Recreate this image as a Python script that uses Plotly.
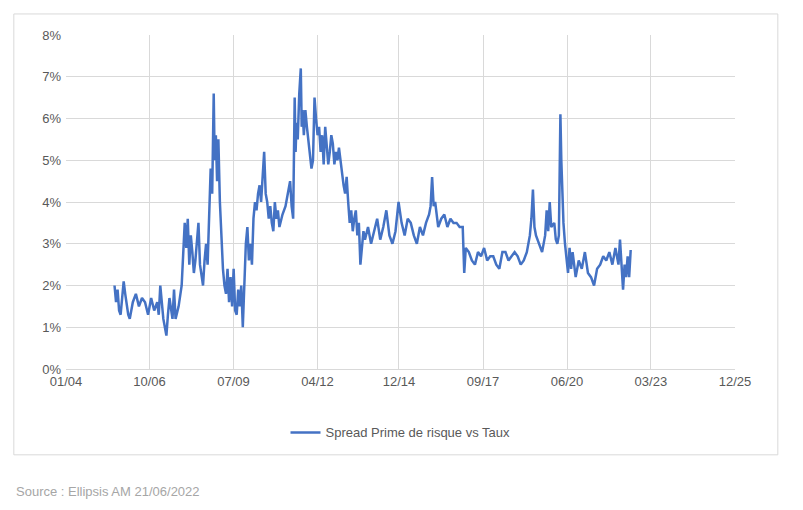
import pandas as pd
import plotly.graph_objects as go

# decimal year -> spread value (%)
years = [2005.60, 2005.65, 2005.70, 2005.75, 2005.80, 2005.85, 2005.90, 2005.95, 2006.00, 2006.05,
         2006.10, 2006.20, 2006.30, 2006.40, 2006.50, 2006.60, 2006.70, 2006.80, 2006.90, 2007.00,
         2007.05, 2007.10, 2007.20, 2007.25, 2007.30, 2007.35, 2007.40, 2007.50, 2007.55, 2007.60,
         2007.70, 2007.80, 2007.85, 2007.90, 2007.95, 2008.00, 2008.05, 2008.10, 2008.15, 2008.20,
         2008.25, 2008.30, 2008.35, 2008.40, 2008.45, 2008.50, 2008.55, 2008.60, 2008.65, 2008.70,
         2008.75, 2008.80, 2008.85, 2008.88, 2008.92, 2008.96, 2009.00, 2009.05, 2009.10, 2009.15,
         2009.20, 2009.25, 2009.30, 2009.35, 2009.40, 2009.45, 2009.50, 2009.55, 2009.60, 2009.65,
         2009.70, 2009.75, 2009.80, 2009.85, 2009.90, 2009.95, 2010.00, 2010.05, 2010.10, 2010.15,
         2010.20, 2010.25, 2010.30, 2010.35, 2010.40, 2010.45, 2010.50, 2010.55, 2010.60, 2010.65,
         2010.70, 2010.75, 2010.80, 2010.85, 2010.90, 2010.95, 2011.00, 2011.10, 2011.20, 2011.30,
         2011.35, 2011.40, 2011.45, 2011.50, 2011.53, 2011.56, 2011.60, 2011.65, 2011.70, 2011.73,
         2011.76, 2011.80, 2011.85, 2011.90, 2011.95, 2012.00, 2012.05, 2012.10, 2012.15, 2012.20,
         2012.25, 2012.30, 2012.35, 2012.40, 2012.45, 2012.50, 2012.55, 2012.60, 2012.65, 2012.70,
         2012.75, 2012.80, 2012.85, 2012.90, 2012.95, 2013.00, 2013.05, 2013.10, 2013.15, 2013.20,
         2013.25, 2013.30, 2013.35, 2013.40, 2013.45, 2013.50, 2013.55, 2013.60, 2013.65, 2013.70,
         2013.75, 2013.80, 2013.90, 2014.00, 2014.10, 2014.20, 2014.30, 2014.40, 2014.50, 2014.60,
         2014.70, 2014.80, 2014.90, 2015.00, 2015.10, 2015.20, 2015.30, 2015.40, 2015.50, 2015.60,
         2015.70, 2015.80, 2015.90, 2015.95, 2016.00, 2016.05, 2016.10, 2016.20, 2016.30, 2016.40,
         2016.50, 2016.60, 2016.70, 2016.80, 2016.90, 2017.00, 2017.05, 2017.10, 2017.20, 2017.30,
         2017.40, 2017.50, 2017.60, 2017.70, 2017.80, 2017.90, 2018.00, 2018.10, 2018.20, 2018.30,
         2018.40, 2018.50, 2018.60, 2018.70, 2018.80, 2018.90, 2019.00, 2019.10, 2019.20, 2019.25,
         2019.30, 2019.35, 2019.40, 2019.50, 2019.60, 2019.70, 2019.75, 2019.80, 2019.85, 2019.90,
         2020.00, 2020.05, 2020.10, 2020.15, 2020.18, 2020.20, 2020.23, 2020.26, 2020.30, 2020.35,
         2020.40, 2020.45, 2020.50, 2020.55, 2020.60, 2020.70, 2020.80, 2020.90, 2021.00, 2021.10,
         2021.20, 2021.30, 2021.40, 2021.50, 2021.60, 2021.70, 2021.80, 2021.90, 2022.00, 2022.05,
         2022.10, 2022.15, 2022.20, 2022.25, 2022.30, 2022.35, 2022.40, 2022.45, 2022.50]
spread = [2.0, 1.6, 1.9, 1.4, 1.3, 1.7, 2.1, 1.8, 1.5, 1.3,
          1.2, 1.6, 1.8, 1.5, 1.7, 1.6, 1.3, 1.7, 1.4, 1.6,
          1.3, 2.0, 1.2, 1.0, 0.8, 1.3, 1.7, 1.2, 1.9, 1.2,
          1.5, 2.0, 2.7, 3.5, 2.9, 3.6, 2.5, 3.2, 2.8, 2.3,
          2.6, 3.0, 3.5, 2.5, 2.2, 2.0, 2.6, 3.0, 2.5, 3.5,
          4.8, 4.2, 6.6, 5.0, 5.6, 4.5, 5.5, 4.0, 3.0, 2.4,
          2.0, 1.8, 2.4, 1.6, 2.2, 1.5, 2.4, 1.4, 1.3, 1.9,
          1.5, 2.0, 1.0, 2.3, 3.0, 3.4, 2.6, 3.0, 2.5, 3.6,
          4.0, 3.8, 4.2, 4.4, 4.0, 4.6, 5.2, 4.2, 4.0, 3.6,
          3.9, 3.5, 3.3, 4.0, 3.6, 3.8, 3.4, 3.7, 3.9, 4.3,
          4.5, 3.9, 3.6, 6.5, 5.2, 5.9, 5.5, 6.6, 7.2, 5.8,
          6.2, 5.6, 6.2, 5.8, 5.5, 5.2, 4.8, 5.0, 6.5, 6.0,
          5.6, 5.8, 5.2, 5.6, 4.9, 5.8, 5.3, 4.9, 5.2, 5.6,
          5.4, 4.9, 5.2, 5.0, 5.3, 5.0, 4.6, 4.4, 4.2, 4.6,
          4.0, 3.5, 3.8, 3.3, 3.6, 3.8, 3.2, 3.5, 2.5, 3.0,
          3.3, 3.1, 3.4, 3.0, 3.3, 3.6, 3.1, 3.4, 3.8, 3.2,
          3.0, 3.3, 4.0, 3.5, 3.2, 3.6, 3.5, 3.2, 3.0, 3.4,
          3.2, 3.5, 3.7, 3.9, 4.6, 3.9, 4.0, 3.4, 3.6, 3.7,
          3.4, 3.6, 3.5, 3.5, 3.4, 3.4, 2.3, 2.9, 2.8, 2.6,
          2.5, 2.8, 2.7, 2.9, 2.6, 2.7, 2.7, 2.5, 2.4, 2.8,
          2.8, 2.6, 2.7, 2.8, 2.7, 2.5, 2.6, 2.8, 3.2, 3.6,
          4.3, 3.4, 3.2, 3.0, 2.8, 3.2, 3.8, 3.3, 4.0, 3.4,
          3.5, 3.1, 3.0, 3.2, 4.5, 6.1, 5.0, 4.2, 3.5, 3.0,
          2.7, 2.3, 2.9, 2.4, 2.8, 2.2, 2.6, 2.4, 2.8, 2.3,
          2.2, 2.0, 2.4, 2.5, 2.7, 2.6, 2.8, 2.5, 2.9, 2.7,
          2.5, 3.1, 2.6, 1.9, 2.5, 2.2, 2.7, 2.2, 2.85]

tick_dates = ["2004-01-06", "2006-10-01", "2009-07-01", "2012-04-01", "2014-12-01",
              "2017-09-01", "2020-06-01", "2023-03-01", "2025-12-01"]
tick_labels = ["01/04", "10/06", "07/09", "04/12", "12/14", "09/17", "06/20", "03/23", "12/25"]

dates = [pd.Timestamp(int(y), 1, 1) + pd.Timedelta(days=(y - int(y)) * 365.25) for y in years]

fig = go.Figure()
fig.add_trace(go.Scatter(
    x=dates, y=[v / 100 for v in spread], mode="lines",
    name="Spread Prime de risque vs Taux",
    line=dict(color="#4472C4", width=2.5),
))

grey = "#595959"
fig.update_layout(
    width=803, height=510,
    margin=dict(l=58, r=76, t=27, b=149),
    paper_bgcolor="white", plot_bgcolor="white",
    font=dict(family="Liberation Sans, Arial", size=13, color=grey),
    showlegend=True,
    legend=dict(orientation="h", x=0.5, xanchor="center", y=-0.19, yanchor="middle",
                font=dict(size=13, color=grey)),
    xaxis=dict(range=[tick_dates[0], tick_dates[-1]], tickvals=tick_dates, ticktext=tick_labels,
               showgrid=True, gridcolor="#d9d9d9", gridwidth=1, zeroline=False,
               showline=True, linecolor="#d9d9d9", ticks="", ticklen=0),
    yaxis=dict(range=[0, 0.08], dtick=0.01, tickformat=".0%",
               showgrid=True, gridcolor="#d9d9d9", gridwidth=1, zeroline=False,
               showline=False, ticks="", ticklabelstandoff=4),
)

# outer chart border
fig.add_shape(type="rect", xref="paper", yref="paper",
              x0=-0.078, x1=1.064, y0=-0.257, y1=1.063,
              line=dict(color="#d9d9d9", width=1))

fig.add_annotation(xref="paper", yref="paper", x=-0.078, y=-0.368,
                   xanchor="left", yanchor="middle", showarrow=False,
                   text="Source : Ellipsis AM 21/06/2022",
                   font=dict(size=13, color="#a6a6a6"))

fig.write_html("out.html")
